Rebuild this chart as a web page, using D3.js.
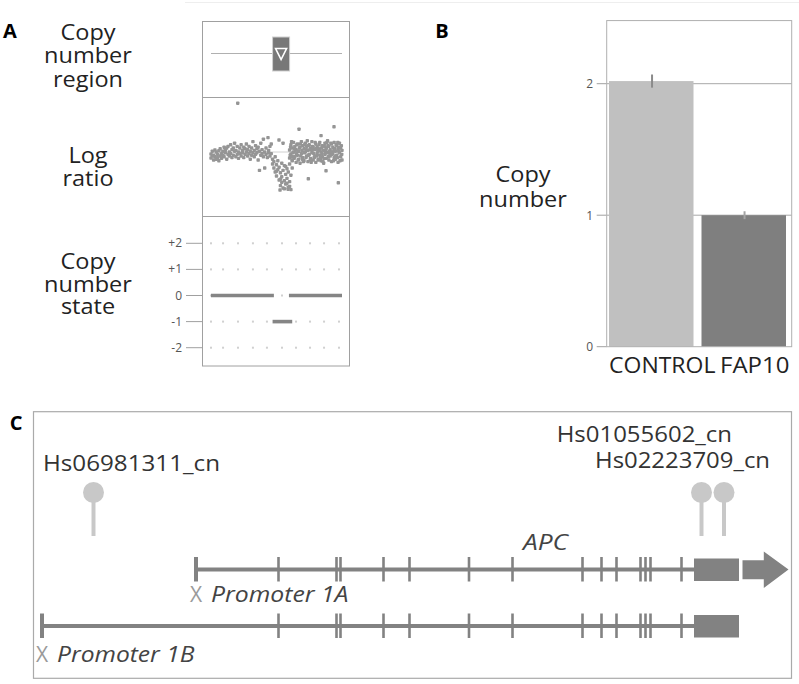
<!DOCTYPE html>
<html><head><meta charset="utf-8">
<script src="https://cdn.jsdelivr.net/npm/d3@7"></script>
<style>body{margin:0;background:#fff;} svg{display:block;} text{font-family:"Open Sans",sans-serif;}</style>
</head><body><svg id="c" width="799" height="684"></svg>
<script>
// ---------- DATA ----------
// Panel A: copy number region (probe position units 0-100)
const cnRegion = [47, 60];
// Log ratio scatter: [position, log ratio * 100]
const logRatioPoints = [
[0,-5],[0,-15],[1,2],[1,-10],[2,-20],[2,-8],[3,5],[3,-12],[4,-18],[4,0],[5,-6],[5,-14],[6,3],[6,-22],[7,-10],[7,8],[8,-4],[8,-16],[9,2],[9,-8],
[10,12],[10,-12],[11,-2],[11,6],[12,-18],[12,10],[13,-6],[13,14],[14,0],[14,-10],[15,18],[15,-4],[16,6],[16,-14],[17,-8],[17,10],[18,2],[18,22],[19,-12],[19,4],
[20,14],[20,-6],[20.4,122],[21,0],[21,-16],[22,10],[22,-4],[23,-10],[23,18],[24,4],[24,-2],[25,-14],[25,12],[26,8],[26,-6],[27,0],[27,20],[28,-10],[28,6],[29,14],
[29,-4],[30,-18],[30,2],[31,10],[31,-8],[32,26],[32,-2],[33,4],[33,-12],[34,16],[34,-6],[35,-2],[35,8],[36,-20],[36,12],[37,2],[37,-46],[38,-8],[38,22],[39,6],
[39,-4],[40,-12],[40,32],[41,0],[41,-40],[42,10],[42,-6],[43,-14],[43.5,36],[44,4],[44,-2],[45,-10],[45,14],[46,-4],[46,20],
[47,-18],[47,-30],[48,-24],[48,-40],[49,-12],[49,-50],[50,-32],[50,-60],[51,-44],[51,-22],[51.9,30],[52,-70],[52,-38],[53,-52],[53,-84],[54,-28],[54,-62],[55,22],[55,-46],[55,-90],
[56,-72],[56,-34],[57,-56],[57,-80],[58,-42],[58,-66],[59,-88],[59,-50],[60,-30],[60,-74],[61,-58],[61,-94],[62,-40],[62,-20],[53,-68],[56,-92],[58,-78],[50,-48],[57,-36],[54,-76],[60,-86],[52.7,-95],[58.8,-93],
[60,5],[60,-15],[61,18],[61,-5],[62,10],[62,-22],[63,0],[63,24],[64,-12],[64,14],[65,-26],[65,6],[66,20],[66,-8],[67,-18],[67,2],[67.2,57],[68,12],[68,-28],[69,-4],
[69,26],[70,16],[70,-14],[71,-22],[71,8],[72,0],[72,22],[73,-10],[73,14],[74,-24],[74,4],[74.3,-67],[75,18],[75,-6],[76,-16],[76,10],[77,26],[77,-2],[78,-20],[78,12],
[79,6],[79,-12],[80,20],[80,-26],[81,-4],[81,14],[82,8],[82,-18],[83,24],[83,-8],[84,41],[84,0],[84,-22],[85,16],[85,-12],[86,4],[86,-28],[87,22],[87,-6],[87.8,-47],
[88,10],[88,-16],[89,-2],[89,28],[90,-20],[90,14],[91,6],[91,-10],[92,20],[92,-24],[93,-4],[93,12],[93.9,63],[94,-14],[94,24],[95,2],[95,-18],[96,16],[96,-8],[97,-26],
[97,8],[97.2,-77],[98,22],[98,-2],[99,-12],[99,10],[100,4],[100,-20],
[60.5,-8],[61.5,26],[62.5,-2],[63.5,-16],[64.5,4],[65.5,18],[66.5,-20],[67.5,10],[68.5,-10],[69.5,4],[70.5,-24],[71.5,18],[72.5,-14],[73.5,28],[74.5,-8],[75.5,6],[76.5,-26],[77.5,14],[78.5,-4],[79.5,24],
[80.5,-10],[81.5,2],[82.5,18],[83.5,-16],[84.5,10],[85.5,-24],[86.5,14],[87.5,-2],[88.5,24],[89.5,-12],[90.5,2],[91.5,22],[92.5,-6],[93.5,-22],[94.5,8],[95.5,18],[96.5,-14],[97.5,2],[98.5,-22],[99.5,16],
[60.8,12],[62.2,-12],[63.8,8],[65.2,-4],[66.8,2],[68.2,20],[69.8,-18],[71.2,-2],[72.8,6],[74.2,16],[75.8,-20],[77.2,4],[78.8,-14],[80.2,8],[81.8,-20],[83.2,4],[84.8,-4],[86.2,-16],[87.8,6],[89.2,16],
[90.8,-6],[92.2,0],[93.8,4],[95.2,-10],[96.8,24],[98.2,12],[99.8,-6]
];
// Copy number state segments
const cnSegStart = [0, 47, 59.5];
const cnSegEnd   = [48, 62, 100];
const cnSegState = [0, -1, 0];
const stateTicks = [2, 1, 0, -1, -2];
const stateTickLabels = ["+2", "+1", "0", "-1", "-2"];
const stateGridX = [0, 9.2, 20.6, 32, 42.7, 54.2, 64.9, 75.6, 86.3, 97.7];

// Panel B
const barCategories = ["CONTROL", "FAP10"];
const barValues = [2.02, 1.00];
const barErrors = [0.05, 0.03];
const barTicks = [0, 1, 2];

// Panel C (genomic units)
const probeNames = ["Hs06981311_cn", "Hs01055602_cn", "Hs02223709_cn"];
const probePositions = [10.3, 131.9, 136.4];
const exonPositions = [47.3, 58.9, 59.7, 68.3, 73.5, 85.4, 94.1, 108.1, 111.9, 114.9, 119.7, 120.7, 121.7, 127.9];
const lastExon = [130.4, 139.4];
const arrowSpan = [140.1, 149.3];
const promoterNames = ["Promoter 1A", "Promoter 1B"];
const promoterStarts = [30.8, 0];
const geneName = "APC";
const geneLabelPos = 100.7;

// ---------- DRAW ----------
const svg = d3.select("#c");
svg.append("line").attr("x1",185).attr("x2",799).attr("y1",2.5).attr("y2",2.5).attr("stroke","#eeeeee");

function label(g, s, o) {
  const t = g.append("text").text(s)
    .attr("font-size", o.size || 21)
    .attr("fill", o.fill || "#222")
    .attr("font-style", o.italic ? "italic" : null)
    .attr("font-weight", o.bold ? "bold" : null);
  if (o.x1 !== undefined) {
    t.attr("x", o.x1).attr("y", o.y).attr("textLength", o.x2 - o.x1).attr("lengthAdjust", "spacingAndGlyphs");
  } else {
    t.attr("text-anchor", o.anchor || "middle")
     .attr("transform", `translate(${o.x},${o.y}) scale(${o.sx || 1},1)`);
  }
  return t;
}
// multi-line label as one text element with tspans
function multiLabel(g, lines, o) {
  const t = g.append("text")
    .attr("font-size", o.size).attr("fill", o.fill || "#222")
    .attr("text-anchor", "middle")
    .attr("transform", `translate(${o.x},${o.y}) scale(${o.sx || 1},1)`);
  lines.forEach((s, i) => t.append("tspan").attr("x", 0).attr("dy", i === 0 ? 0 : o.lh).text(s));
  return t;
}

// Panel labels
label(svg, "A", {x:10, y:38, size:20, bold:true, fill:"#000"});
label(svg, "B", {x:442, y:38, size:20, bold:true, fill:"#000"});
label(svg, "C", {x:16, y:430, size:20, bold:true, fill:"#000"});

// ===== Panel A =====
const gA = svg.append("g");
const xA = d3.scaleLinear().domain([0, 100]).range([211, 342]);
const yLR = d3.scaleLinear().domain([-1, 1]).range([192, 112]);
const yState = d3.scaleLinear().domain([-2, 2]).range([347.7, 243.3]);

gA.append("rect").attr("x",202.5).attr("y",21.5).attr("width",147).attr("height",344.5)
  .attr("fill","none").attr("stroke","#a0a0a0");
[97.5, 216.5].forEach(y => gA.append("line").attr("x1",202.5).attr("x2",349.5).attr("y1",y).attr("y2",y).attr("stroke","#a0a0a0"));

multiLabel(gA, ["Copy", "number", "region"], {x:88, y:40, lh:23.5, size:21, sx:1.12});
multiLabel(gA, ["Log", "ratio"], {x:88, y:163, lh:22.5, size:21, sx:1.12});
multiLabel(gA, ["Copy", "number", "state"], {x:88, y:269, lh:22.5, size:21, sx:1.12});

// region track
gA.append("line").attr("x1",xA(0)).attr("x2",xA(100)).attr("y1",53.5).attr("y2",53.5).attr("stroke","#b0b0b0");
gA.append("rect").attr("x",xA(cnRegion[0])).attr("y",37).attr("width",xA(cnRegion[1])-xA(cnRegion[0])).attr("height",34)
  .attr("fill","#787878").attr("stroke","#cfcfcf").attr("stroke-width",1);
const cx = (xA(cnRegion[0]) + xA(cnRegion[1])) / 2;
gA.append("path").attr("d", `M${cx-5.5},48.5 L${cx+5.5},48.5 L${cx},59.5 Z`)
  .attr("fill","none").attr("stroke","#fff").attr("stroke-width",1.6);

// log ratio
gA.append("line").attr("x1",xA(0)).attr("x2",xA(100)).attr("y1",yLR(0)).attr("y2",yLR(0)).attr("stroke","#d0d0d0");
gA.append("g").selectAll("rect").data(logRatioPoints).join("rect")
  .attr("x", d => xA(d[0]) - 1.7).attr("y", d => yLR(d[1] / 100) - 1.7)
  .attr("width", 3.4).attr("height", 3.4).attr("rx", 0.8).attr("fill", "#959595");

// copy number state
stateTicks.forEach((v, i) => {
  gA.append("line").attr("x1",186).attr("x2",202.5).attr("y1",yState(v)).attr("y2",yState(v)).attr("stroke","#a0a0a0");
  gA.append("text").attr("x",182).attr("y",yState(v)+4).attr("text-anchor","end")
    .attr("font-size",12).attr("fill","#555").text(stateTickLabels[i]);
  stateGridX.forEach(gx => gA.append("rect").attr("x",xA(gx)-1).attr("y",yState(v)-1).attr("width",2).attr("height",2).attr("fill","#d0d0d0"));
});
cnSegStart.forEach((s, i) => {
  gA.append("line").attr("x1",xA(s)).attr("x2",xA(cnSegEnd[i]))
    .attr("y1",yState(cnSegState[i])).attr("y2",yState(cnSegState[i]))
    .attr("stroke","#858585").attr("stroke-width",3.6);
});

// ===== Panel B =====
const gB = svg.append("g");
const yB = d3.scaleLinear().domain([0, 2]).range([346.7, 83.7]);
const xB = d3.scaleBand().domain(barCategories).range([609, 786]).paddingInner(0.0865);
const fx0 = 606.7, fx1 = 791.7, fy0 = yB(2.48);
barTicks.slice(1).forEach(v => gB.append("line").attr("x1",fx0).attr("x2",fx1).attr("y1",yB(v)).attr("y2",yB(v)).attr("stroke","#a8a8a8"));
barTicks.forEach(v => {
  gB.append("line").attr("x1",596.7).attr("x2",fx0).attr("y1",yB(v)).attr("y2",yB(v)).attr("stroke","#a0a0a0");
  gB.append("text").attr("x",593).attr("y",yB(v)+4.5).attr("text-anchor","end").attr("font-size",12).attr("fill","#555").text(v);
});
const barColors = ["#c0c0c0", "#7f7f7f"];
const errColors = ["#8a8a8a", "#a4a4a4"];
gB.selectAll("rect.bar").data(barCategories).join("rect").attr("class","bar")
  .attr("x", d => xB(d)).attr("width", xB.bandwidth())
  .attr("y", (d, i) => yB(barValues[i])).attr("height", (d, i) => yB(0) - yB(barValues[i]))
  .attr("fill", (d, i) => barColors[i]);
barCategories.forEach((c, i) => {
  const bx = xB(c) + xB.bandwidth() / 2 + 0.8;
  gB.append("line").attr("x1",bx).attr("x2",bx)
    .attr("y1", yB(barValues[i] - barErrors[i])).attr("y2", yB(barValues[i] + barErrors[i]))
    .attr("stroke", errColors[i]).attr("stroke-width", 2);
});
gB.append("rect").attr("x",fx0).attr("y",fy0).attr("width",fx1-fx0).attr("height",yB(0)-fy0)
  .attr("fill","none").attr("stroke","#b0b0b0");
const catLabelW = [106.3, 69.3];
barCategories.forEach((c, i) => {
  const mid = xB(c) + xB.bandwidth() / 2 + 11;
  label(gB, c, {x1: mid - catLabelW[i]/2, x2: mid + catLabelW[i]/2, y:373, size:21, fill:"#222"});
});
multiLabel(gB, ["Copy", "number"], {x:523, y:182, lh:25, size:21, sx:1.12});

// ===== Panel C =====
const gC = svg.append("g");
const xG = d3.scaleLinear().domain([0, 150]).range([42, 792]);
gC.append("rect").attr("x",33.5).attr("y",411.7).attr("width",758).attr("height",266.6)
  .attr("fill","none").attr("stroke","#aaaaaa").attr("stroke-width",1.2);

const probeLabelLayout = [{x1:43, x2:220, y:471}, {x1:556.7, x2:732, y:441.7}, {x1:595, x2:770, y:468}];
probePositions.forEach((p, i) => {
  gC.append("line").attr("x1",xG(p)).attr("x2",xG(p)).attr("y1",492).attr("y2",536).attr("stroke","#c8c8c8").attr("stroke-width",4);
  gC.append("circle").attr("cx",xG(p)).attr("cy",492.5).attr("r",10.5).attr("fill","#c8c8c8");
  const L = probeLabelLayout[i];
  label(gC, probeNames[i], {x1:L.x1, x2:L.x2, y:L.y, size:21, fill:"#333"});
});

label(gC, geneName, {x1:xG(geneLabelPos)-22.5, x2:xG(geneLabelPos)+22.5, y:550, size:21, italic:true, fill:"#444"});

const lineY = [569.5, 626];
const geneColor = "#828282";
promoterStarts.forEach((ps, i) => {
  const y = lineY[i];
  gC.append("line").attr("x1",xG(ps)).attr("x2",xG(lastExon[0])).attr("y1",y).attr("y2",y).attr("stroke",geneColor).attr("stroke-width",4);
  gC.append("line").attr("x1",xG(ps)).attr("x2",xG(ps)).attr("y1",y-12.5).attr("y2",y+12).attr("stroke",geneColor).attr("stroke-width",4);
  exonPositions.forEach(e => gC.append("line").attr("x1",xG(e)).attr("x2",xG(e)).attr("y1",y-12.5).attr("y2",y+12)
    .attr("stroke",geneColor).attr("stroke-width",2.6));
  gC.append("rect").attr("x",xG(lastExon[0])).attr("y",y-11).attr("width",xG(lastExon[1])-xG(lastExon[0])).attr("height",22.5)
    .attr("fill",geneColor);
  if (i === 0) {
    const a0 = xG(arrowSpan[0]), a1 = xG(arrowSpan[1]), hb = a1 - 24.7;
    gC.append("path").attr("d",
      `M${a0},${y-9.3} L${hb},${y-9.3} L${hb},${y-18} L${a1},${y} L${hb},${y+18.5} L${hb},${y+9.8} L${a0},${y+9.8} Z`)
      .attr("fill",geneColor);
  }
  const by = i === 0 ? y + 32.2 : y + 35.6;
  label(gC, "X", {x:xG(ps), y:by, size:21, fill:"#9a9a9a"});
  label(gC, promoterNames[i], {x1:xG(ps)+15, x2:xG(ps)+152.5, y:by, size:21, italic:true, fill:"#444"});
});
</script>
</body></html>
